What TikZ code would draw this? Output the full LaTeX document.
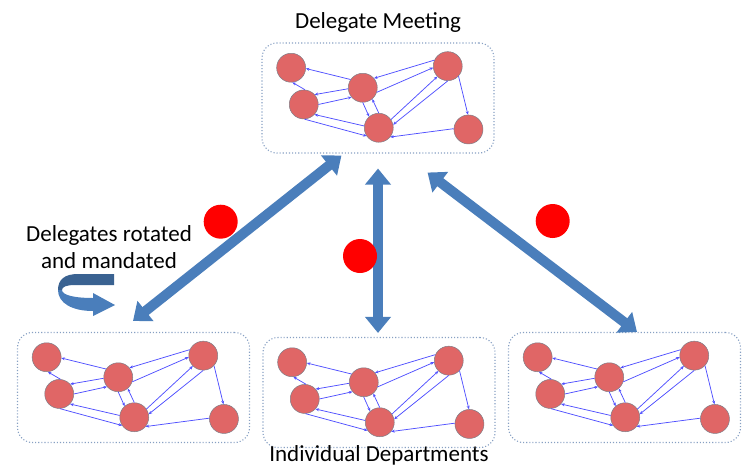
\documentclass[tikz,border=0pt]{standalone}
\usepackage{fontspec}
\setmainfont{Carlito}
\usetikzlibrary{calc,arrows.meta}

\definecolor{memberred}{RGB}{224,102,102}
\definecolor{membergray}{RGB}{125,125,135}
\definecolor{linkblue}{RGB}{80,80,255}
\definecolor{boxblue}{RGB}{135,160,195}
\definecolor{arrowblue}{RGB}{74,126,187}
\definecolor{ribbondark}{RGB}{58,98,145}

\tikzset{
  member/.style={circle, draw=membergray, line width=0.5pt, fill=memberred, minimum size=29pt, inner sep=0pt},
  link/.style={draw=linkblue, line width=0.75pt, -{Stealth[length=3.5pt,width=3pt]}},
  groupbox/.style={draw=boxblue, dotted, line width=1.1pt, rounded corners=15pt, minimum width=232pt, minimum height=110pt},
  bigarrow/.style={draw=arrowblue, line width=10pt, {Triangle[width=25pt,length=16pt]}-{Triangle[width=25pt,length=16pt]}},
  vote/.style={circle, fill=red, minimum size=34pt, inner sep=0pt},
  label/.style={font=\fontsize{23}{27}\selectfont, align=center},
  cluster/.pic={
    \node[member] (-a) at (29.7,25.3) {};
    \node[member] (-b) at (42.3,62) {};
    \node[member] (-c) at (101.3,45.3) {};
    \node[member] (-d) at (117.3,85.3) {};
    \node[member] (-e) at (186.3,23.7) {};
    \node[member] (-f) at (207,87) {};
    \draw[link] (-c.146) -- (-a.-3);
    \draw[link] (-b.85) -- (-a.-85);
    \draw[link] (-c.184) -- (-b.42);
    \draw[link] (-b.0) -- (-c.220);
    \draw[link] (-d.173) -- (-b.-43);
    \draw[link] (-b.-87) -- (-d.214);
    \draw[link] (-d.90) -- (-c.-50);
    \draw[link] (-c.-90) -- (-d.131);
    \draw[link] (-e.156) -- (-c.40);
    \draw[link] (-c.-18) -- (-e.186);
    \draw[link] (-d.34) -- (-e.225);
    \draw[link] (-e.-90) -- (-d.12);
    \draw[link] (-e.-43) -- (-f.92);
    \draw[link] (-f.177) -- (-d.-39);
  }
}

\begin{document}
\begin{tikzpicture}[x=1pt, y=-1pt]
    \useasboundingbox (0,0) rectangle (751,474);

    % meeting and departments
    \node[groupbox] (meeting) at (378,98) {};
    \node[groupbox] (dept1) at (133.5,387.5) {};
    \node[groupbox] (dept2) at (379,392.5) {};
    \node[groupbox] (dept3) at (624.5,387.5) {};
    \pic (meet) at (meeting.north west) {cluster};
    \pic (depa) at (dept1.north west) {cluster};
    \pic (depb) at (dept2.north west) {cluster};
    \pic (depc) at (dept3.north west) {cluster};

    \node[label, anchor=base] (title) at (378,28.3) {Delegate Meeting};
    \node[label, anchor=base] (deptlabel) at (379,461.7) {Individual Departments};
    \node[label] (rotation) at (109,247) {Delegates rotated\\and mandated};

    % links between the levels
    \draw[bigarrow] ($(meeting.south west)+(80,2)$) -- ($(dept1.north)+(-0.5,-11)$);
    \draw[bigarrow] ($(meeting.south)+(0,15)$) -- ($(dept2.north)+(-1,-4)$);
    \draw[bigarrow] ($(meeting.south east)+(-67,19)$) -- ($(dept3.north)+(12.5,0)$);

    \node[vote] (vote1) at (220.7,221.7) {};
    \node[vote] (vote2) at (360,256) {};
    \node[vote] (vote3) at (552.7,221) {};

    % turning ribbon
    \fill[ribbondark] (114,274) -- (114,285) -- (75,285)
        .. controls (66,285) and (62,287) .. (62,290) -- (58,290)
        .. controls (58,280) and (64,274) .. (78,274) -- cycle;
    \fill[arrowblue] (58,290) .. controls (58,303) and (72,311) .. (93,311)
        -- (93,316) -- (115,305) -- (93,293) -- (93,298)
        .. controls (74,298) and (62,295) .. (62,290) -- cycle;
\end{tikzpicture}
\end{document}
